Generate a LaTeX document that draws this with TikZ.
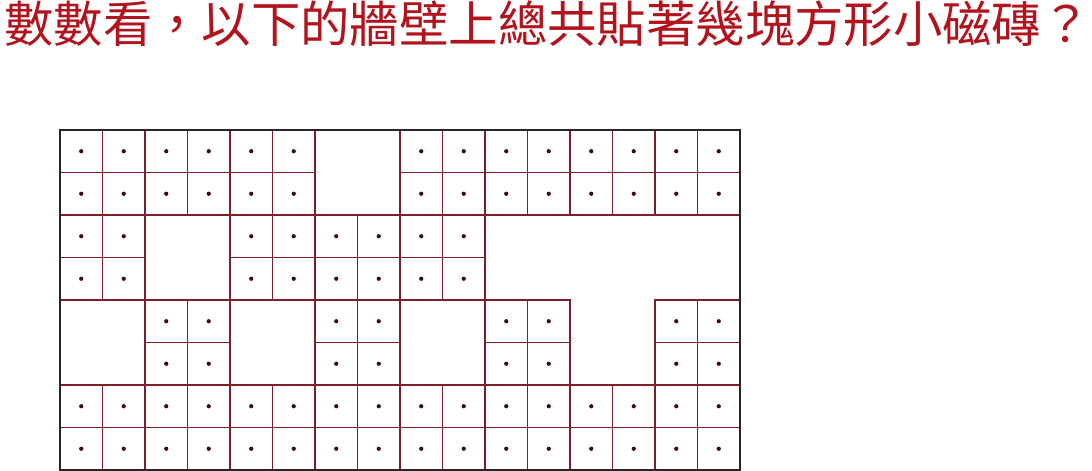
\documentclass[tikz,border=0pt]{standalone}
\usepackage{fontspec}
\newfontfamily\cjk{Noto Sans CJK TC}
\usetikzlibrary{positioning}
\definecolor{tileline}{RGB}{125,30,45}
\definecolor{tiledot}{RGB}{60,12,22}
\definecolor{titlered}{RGB}{178,20,30}

\begin{document}
\begin{tikzpicture}[
  tile/.style  = {rectangle, draw=tileline, line width=0.75pt,
                  minimum size=0.85cm, inner sep=0pt},
  dotmark/.style = {circle, fill=tiledot, inner sep=0pt, minimum size=0.085cm},
  wall/.style  = {draw=black!85, line width=1.1pt},
  question/.style = {font=\cjk\fontsize{28.1}{30}\selectfont, text=titlered, inner sep=0pt}
                        ]
\useasboundingbox (0,0) rectangle (21.84,9.42);
\node (title) [question] at (10.95,8.94) {數數看，以下的牆壁上總共貼著幾塊方形小磁磚？};
% tiles row by row, holes left out
\foreach \r/\cols in {0/{0,1,2,3,4,5,8,9,10,11,12,13,14,15},
                      1/{0,1,2,3,4,5,8,9,10,11,12,13,14,15},
                      2/{0,1,4,5,6,7,8,9}, 3/{0,1,4,5,6,7,8,9},
                      4/{2,3,6,7,10,11,14,15}, 5/{2,3,6,7,10,11,14,15},
                      6/{0,...,15}, 7/{0,...,15}}
  \foreach \c in \cols {
    \node (t\r-\c) [tile] at ({1.625+0.85*\c},{6.395-0.85*\r}) {};
    \node (d\r-\c) [dotmark] at (t\r-\c.center) {};
  }
\coordinate (nw) at (1.2,6.82);
\coordinate (se) at (14.8,0.02);
\draw[wall] (nw) rectangle (se);
\end{tikzpicture}
\end{document}
